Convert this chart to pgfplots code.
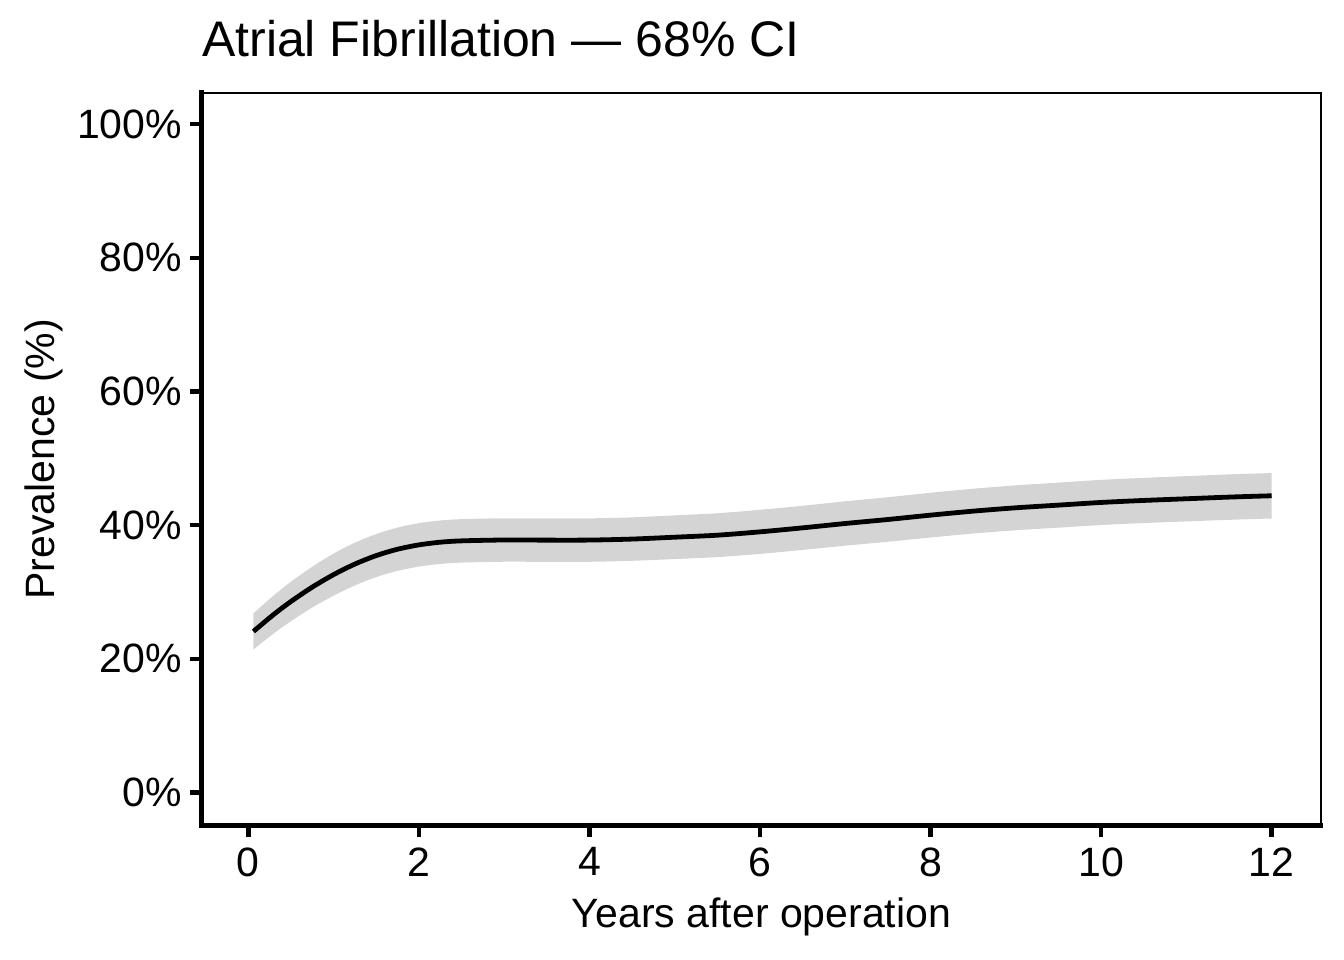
\documentclass[border=0pt]{standalone}
\usepackage{pgfplots}
\usepackage{pgfplotstable}
\pgfplotsset{compat=1.18}
\usepgfplotslibrary{fillbetween}
\usepackage{fontspec}
\setmainfont{Liberation Sans}

\definecolor{band}{HTML}{D4D4D4}

% years, lower, estimate, upper (68% CI)
\pgfplotstableread{
x     lo     mid    hi
0.06  21.40  24.10  26.80
0.30  23.81  26.66  29.51
0.50  25.63  28.58  31.53
0.75  27.68  30.73  33.78
1.00  29.45  32.60  35.75
1.25  30.98  34.18  37.38
1.50  32.23  35.45  38.67
1.75  33.16  36.40  39.64
2.00  33.80  37.05  40.30
2.25  34.20  37.45  40.70
2.50  34.40  37.65  40.90
3.00  34.53  37.78  41.03
3.50  34.51  37.76  41.01
4.00  34.52  37.77  41.02
4.50  34.67  37.92  41.17
5.00  34.93  38.20  41.47
5.50  35.22  38.50  41.78
6.00  35.70  39.00  42.30
6.50  36.30  39.60  42.90
7.00  36.93  40.25  43.57
7.50  37.52  40.85  44.18
8.00  38.15  41.50  44.85
8.50  38.75  42.10  45.45
9.00  39.24  42.60  45.96
9.50  39.63  43.00  46.37
10.00 40.02  43.40  46.78
10.50 40.32  43.70  47.08
11.00 40.56  43.95  47.34
11.50 40.80  44.20  47.60
12.00 41.00  44.40  47.80
}\afdata

\begin{document}
\begin{tikzpicture}
\begin{axis}[
  at={(0pt,0pt)}, anchor=south west,
  scale only axis,
  width=1119pt, height=732.5pt,
  xmin=-0.543, xmax=12.578,
  ymin=-4.94, ymax=104.67,
  xtick={0,2,...,12},
  ytick={0,20,...,100},
  yticklabel={\pgfmathprintnumber{\tick}\%},
  /pgf/number format/assume math mode=true,
  tick align=outside,
  xtick pos=bottom, ytick pos=left,
  major tick length=11.5pt,
  every tick/.style={black, line width=4.5pt},
  axis line style={black, line width=2.2pt},
  tick label style={font=\fontsize{41}{49}\selectfont},
  xticklabel style={yshift=-7pt},
  yticklabel style={xshift=-5pt},
  label style={font=\fontsize{41}{49}\selectfont},
  title={Atrial Fibrillation — 68\% CI},
  title style={at={([yshift=30pt]axis description cs:0,1)}, anchor=base west,
    inner sep=0pt, font=\fontsize{50}{60}\selectfont},
  xlabel={Years after operation},
  xlabel style={at={([yshift=-102pt]axis description cs:0.5,0)}, anchor=base, inner sep=0pt},
  ylabel={Prevalence (\%)},
  ylabel style={at={([xshift=-147pt]axis description cs:0,0.5)}, anchor=base, inner sep=0pt},
  clip=false,
]
\addplot[name path=up, draw=none, smooth] table[x=x, y=hi] {\afdata};
\addplot[name path=lo, draw=none, smooth] table[x=x, y=lo] {\afdata};
\addplot[fill=band, draw=none] fill between[of=up and lo];
\addplot[black, line width=4.8pt, smooth] table[x=x, y=mid] {\afdata};
\draw[black, line width=5pt, line cap=rect] (rel axis cs:1,0) -- (rel axis cs:0,0) -- (rel axis cs:0,1);
\end{axis}
\pgfresetboundingbox
\useasboundingbox (-202pt,-134.5pt) rectangle (1142pt,825.5pt);
\end{tikzpicture}
\end{document}
